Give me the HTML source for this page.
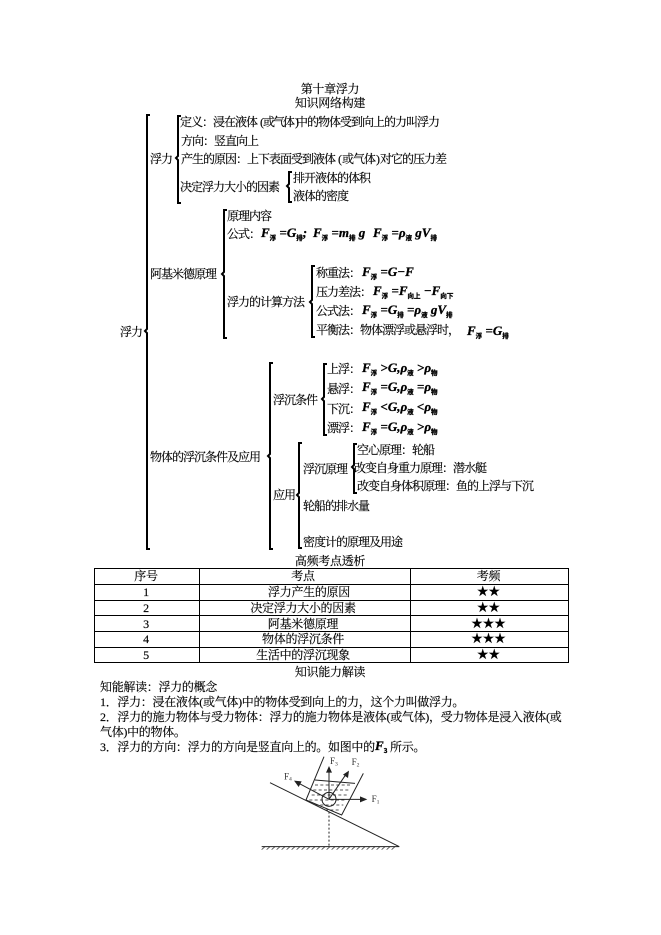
<!DOCTYPE html>
<html lang="zh"><head><meta charset="utf-8">
<style>
html,body{margin:0;padding:0;background:#fff}
#p{position:relative;width:661px;height:935px;overflow:hidden;background:#fff;font:12px/14px "Liberation Serif","WenQuanYi Zen Hei","Noto Serif CJK SC",serif;color:#000;-webkit-text-stroke:.15px #000}
.t{position:absolute;white-space:pre;letter-spacing:-1px;margin-top:1px}
.b{position:absolute;white-space:pre;letter-spacing:-.3px;margin-top:1px}
.c{position:absolute;text-align:center;white-space:pre;letter-spacing:-.3px}
.s{position:absolute;text-align:center;white-space:pre;font-size:11.5px;letter-spacing:0}
.f{position:absolute;white-space:pre;font:italic bold 13px/14px "Liberation Serif",serif;-webkit-text-stroke:.3px #000}
.f sub{font:bold 6.5px/6px "Noto Sans CJK SC",sans-serif;vertical-align:-3px;-webkit-text-stroke:.3px #000}
svg{position:absolute;left:0;top:0;-webkit-text-stroke:0}
</style></head><body><div id="p">
<svg width="661" height="935" fill="none" stroke="#000" stroke-width="2">
<path d="M150 115H147V329L145 331L147 333V549H150"/>
<path d="M181 116H178V156L176 158L178 160V203H181"/>
<path d="M292 172H289V184L287 186L289 188V202H292"/>
<path d="M227 210H224V272L222 274L224 276V338H227"/>
<path d="M315 266H312V300L310 302L312 304V337H315"/>
<path d="M273 363H270V454L268 456L270 458V549H273"/>
<path d="M327 364H324V397L322 399L324 401V435H327"/>
<path d="M302 443H299V493L297 495L299 497V548H302"/>
<path d="M357 444H354V465L352 467L354 469V493H357"/>
<g stroke-width="1">
<path d="M94.500 568.500H568.500V662.500H94.500Z"/>
<path d="M199.500 568V662M410.500 568V662M94 584.500H568M94 600.500H568M94 615.500H568M94 631.500H568M94 647.500H568"/>
</g>
</svg>

<div class="c" style="left:230px;width:200px;top:81px;margin-top:1px">第十章浮力</div>
<div class="c" style="left:230px;width:200px;top:95px;margin-top:1px">知识网络构建</div>

<div class="t" style="left:120px;top:324px">浮力</div>
<div class="t" style="left:150px;top:151px">浮力</div>
<div class="t" style="left:180px;top:114px">定义：浸在液体</div>
<div class="t" style="left:260px;top:114px">(</div>
<div class="t" style="left:263px;top:114px;letter-spacing:-2px">或气体</div>
<div class="t" style="left:295px;top:114px">)</div>
<div class="t" style="left:296px;top:114px">中</div>
<div class="t" style="left:307px;top:114px">的物体受到向上的力叫浮力</div>
<div class="t" style="left:181px;top:133px">方向：竖直向上</div>
<div class="t" style="left:181px;top:151px">产生的原因：上下表面受到液体</div>
<div class="t" style="left:338px;top:151px">(</div>
<div class="t" style="left:342px;top:151px">或气体</div>
<div class="t" style="left:376px;top:151px">)</div>
<div class="t" style="left:380px;top:151px">对它的压力差</div>
<div class="t" style="left:180px;top:179px">决定浮力大小的因素</div>
<div class="t" style="left:293px;top:170px">排开液体的体积</div>
<div class="t" style="left:293px;top:188px">液体的密度</div>

<div class="t" style="left:150px;top:266px">阿基米德原理</div>
<div class="t" style="left:227px;top:208px">原理内容</div>
<div class="t" style="left:227px;top:226px">公式：</div>
<div class="f" style="left:261px;top:226px">F<sub>浮</sub> =G<sub>排</sub>;</div>
<div class="f" style="left:313px;top:226px">F<sub>浮</sub> =m<sub>排</sub> g</div>
<div class="f" style="left:373px;top:226px">F<sub>浮</sub> =ρ<sub>液</sub> gV<sub>排</sub></div>
<div class="t" style="left:227px;top:294px">浮力的计算方法</div>
<div class="t" style="left:316px;top:265px">称重法：</div>
<div class="f" style="left:362px;top:265px">F<sub>浮</sub> =G−F</div>
<div class="t" style="left:316px;top:284px">压力差法：</div>
<div class="f" style="left:373px;top:284px">F<sub>浮</sub> =F<sub>向上</sub> −F<sub>向下</sub></div>
<div class="t" style="left:316px;top:303px">公式法：</div>
<div class="f" style="left:362px;top:303px">F<sub>浮</sub> =G<sub>排</sub> =ρ<sub>液</sub> gV<sub>排</sub></div>
<div class="t" style="left:316px;top:322px">平衡法：物体漂浮或悬浮时，</div>
<div class="f" style="left:467px;top:324px">F<sub>浮</sub> =G<sub>排</sub></div>

<div class="t" style="left:150px;top:449px">物体的浮沉条件及应用</div>
<div class="t" style="left:273px;top:392px">浮沉条件</div>
<div class="t" style="left:327px;top:361px">上浮：</div>
<div class="f" style="left:362px;top:361px">F<sub>浮</sub> &gt;G,ρ<sub>液</sub> &gt;ρ<sub>物</sub></div>
<div class="t" style="left:327px;top:381px">悬浮：</div>
<div class="f" style="left:362px;top:380px">F<sub>浮</sub> =G,ρ<sub>液</sub> =ρ<sub>物</sub></div>
<div class="t" style="left:327px;top:401px">下沉：</div>
<div class="f" style="left:362px;top:400px">F<sub>浮</sub> &lt;G,ρ<sub>液</sub> &lt;ρ<sub>物</sub></div>
<div class="t" style="left:327px;top:420px">漂浮：</div>
<div class="f" style="left:362px;top:420px">F<sub>浮</sub> =G,ρ<sub>液</sub> &gt;ρ<sub>物</sub></div>
<div class="t" style="left:273px;top:487px">应用</div>
<div class="t" style="left:303px;top:461px">浮沉原理</div>
<div class="t" style="left:357px;top:442px">空心原理：轮船</div>
<div class="t" style="left:354px;top:460px">改变自身重力原理：潜水艇</div>
<div class="t" style="left:357px;top:478px">改变自身体积原理：鱼的上浮与下沉</div>
<div class="t" style="left:303px;top:498px">轮船的排水量</div>
<div class="t" style="left:303px;top:534px">密度计的原理及用途</div>

<div class="c" style="left:230px;width:200px;top:554px">高频考点透析</div>
<div class="c" style="left:94px;width:104px;top:569px">序号</div>
<div class="c" style="left:198px;width:210px;top:569px">考点</div>
<div class="c" style="left:410px;width:157px;top:569px">考频</div>
<div class="c" style="left:94px;width:104px;top:585px">1</div>
<div class="c" style="left:204px;width:210px;top:585px">浮力产生的原因</div>
<div class="s" style="left:410px;width:157px;top:585px">★★</div>
<div class="c" style="left:94px;width:104px;top:601px">2</div>
<div class="c" style="left:198px;width:210px;top:601px">决定浮力大小的因素</div>
<div class="s" style="left:410px;width:157px;top:601px">★★</div>
<div class="c" style="left:94px;width:104px;top:617px">3</div>
<div class="c" style="left:198px;width:210px;top:617px">阿基米德原理</div>
<div class="s" style="left:410px;width:157px;top:617px">★★★</div>
<div class="c" style="left:94px;width:104px;top:632px">4</div>
<div class="c" style="left:198px;width:210px;top:632px">物体的浮沉条件</div>
<div class="s" style="left:410px;width:157px;top:632px">★★★</div>
<div class="c" style="left:94px;width:104px;top:648px">5</div>
<div class="c" style="left:198px;width:210px;top:648px">生活中的浮沉现象</div>
<div class="s" style="left:410px;width:157px;top:648px">★★</div>

<div class="c" style="left:230px;width:200px;top:664px;margin-top:1px">知识能力解读</div>
<div class="b" style="left:100px;top:679px">知能解读：浮力的概念</div>
<div class="b" style="left:100px;top:694px">1．浮力：浸在液体(或气体)中的物体受到向上的力，这个力叫做浮力。</div>
<div class="b" style="left:100px;top:709px">2．浮力的施力物体与受力物体：浮力的施力物体是液体(或气体)，受力物体是浸入液体(或</div>
<div class="b" style="left:100px;top:724px">气体)中的物体。</div>
<div class="b" style="left:100px;top:739px">3．浮力的方向：浮力的方向是竖直向上的。如图中的</div>
<div class="f" style="left:375px;top:739px">F<sub>3</sub></div>
<div class="b" style="left:390px;top:739px">所示。</div>

<svg width="170" height="115" viewBox="0 0 510 345" style="left:250px;top:740px;filter:blur(.35px)" fill="none" stroke="#222" stroke-width="3">
<path d="M60 128L448 320M35 320H448"/>
<path d="M35 329L45 320M50 329L60 320M65 329L75 320M80 329L90 320M95 329L105 320M110 329L120 320M125 329L135 320M140 329L150 320M155 329L165 320M170 329L180 320M185 329L195 320M200 329L210 320M215 329L225 320M230 329L240 320M245 329L255 320M260 329L270 320M275 329L285 320M290 329L300 320M305 329L315 320M320 329L330 320M335 329L345 320M350 329L360 320M365 329L375 320M380 329L390 320M395 329L405 320M410 329L420 320M425 329L435 320" stroke-width="2"/>
<path d="M222 50L168 180L275 225L340 100"/>
<path d="M195 120L315 130"/>
<path d="M195 135H300M190 150H295M185 165H290M178 180H285M195 195H280M225 210H270" stroke-dasharray="9 7" stroke-width="2"/>
<circle cx="237" cy="178" r="21"/>
<path d="M237 178V90M237 178L290 100M237 178H340M237 178L143 128"/>
<path d="M237 215V318" stroke-dasharray="6 6"/>
<path d="M237 78L228 98H246ZM297 92L279 104L294 114ZM352 178L330 169V187ZM132 122L155 124L146 141Z" fill="#222" stroke="none"/>
<g fill="#333" stroke="none" font-family="Liberation Serif,serif" font-size="27">
<text x="240" y="72">F<tspan font-size="17" dy="4">3</tspan></text>
<text x="305" y="75">F<tspan font-size="17" dy="4">2</tspan></text>
<text x="365" y="186">F<tspan font-size="17" dy="4">1</tspan></text>
<text x="102" y="118">F<tspan font-size="17" dy="4">4</tspan></text>
</g>
</svg>
</div></body></html>
